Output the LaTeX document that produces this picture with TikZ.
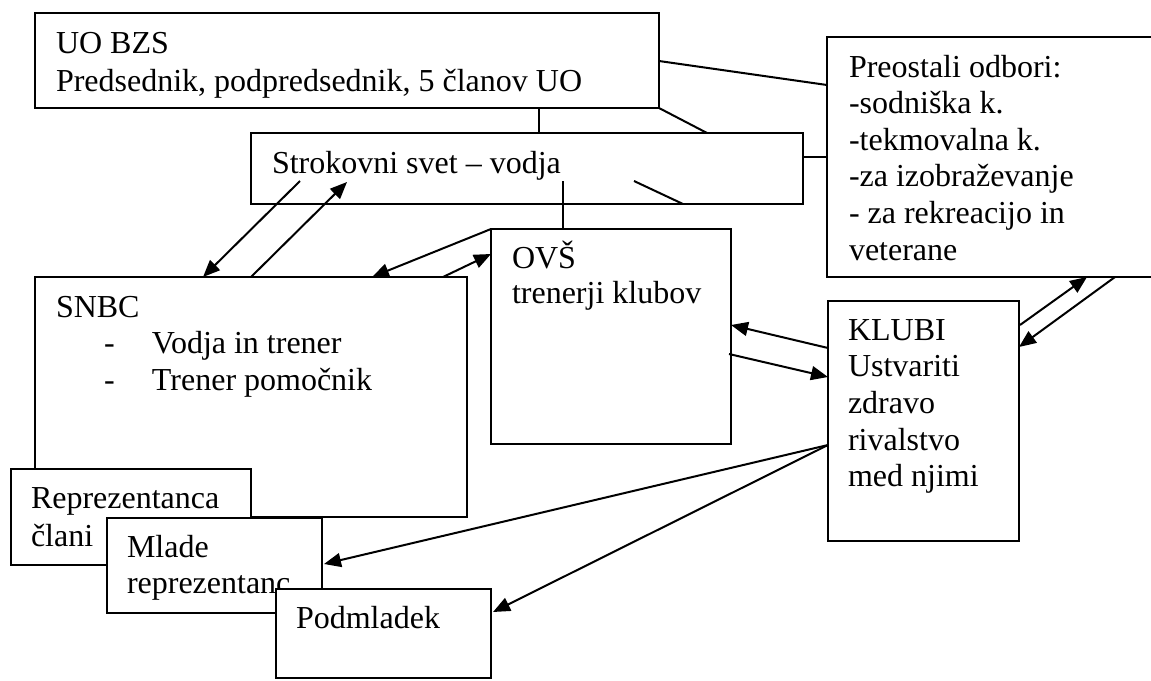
\documentclass[tikz,border=0pt]{standalone}
\usepackage{fontspec}
\setmainfont{Liberation Serif}
\usetikzlibrary{arrows.meta,calc}
\newcommand{\txtblock}[2][36.7]{\parbox[t]{900pt}{\fontsize{32}{#1}\selectfont\raggedright #2}}
\tikzset{
  box/.style={draw, line width=2pt, fill=white, rectangle, inner sep=0pt, outer sep=0pt, anchor=north west},
  lbl/.style={anchor=base west, inner sep=0pt, outer sep=0pt},
  conn/.style={line width=2pt},
  arr/.style={line width=2pt, -{Triangle[length=17pt,width=14pt]}},
}
\begin{document}
\begin{tikzpicture}[x=1pt,y=-1pt]
\useasboundingbox (0,0) rectangle (1151,680);
\clip (0,0) rectangle (1151,680);

% top boxes
\node[box, minimum width=624pt, minimum height=95pt] (uo) at (35,13) {};
\node[lbl] (uotxt) at (56,53) {\txtblock[38]{UO BZS\\Predsednik, podpredsednik, 5 članov UO}};

\node[box, minimum width=552pt, minimum height=71pt] (ss) at (251,133) {};
\node[lbl] (sstxt) at (272,173) {\txtblock{Strokovni svet – vodja}};

\node[box, minimum width=360pt, minimum height=240pt] (po) at (827,37) {};
\node[lbl] (potxt) at (849,77) {\txtblock[36.6]{Preostali odbori:\\-sodniška k.\\-tekmovalna k.\\-za izobraževanje\\- za rekreacijo in\\veterane}};

\node[box, minimum width=240pt, minimum height=215pt] (ovs) at (491,229) {};
\node[lbl] (ovstxt) at (512,268) {\txtblock[35]{OVŠ\\trenerji klubov}};

\node[box, minimum width=191pt, minimum height=240pt] (klubi) at (828,301) {};
\node[lbl] (klubitxt) at (848,340) {\txtblock[36.7]{KLUBI\\Ustvariti\\zdravo\\rivalstvo\\med njimi}};

% stacked boxes at the lower left
\node[box, minimum width=432pt, minimum height=240pt] (snbc) at (35,277) {};
\node[lbl] (snbctxt) at (56,317) {\txtblock[36.5]{SNBC\\\hspace*{48pt}\makebox[48pt][l]{-}Vodja in trener\\\hspace*{48pt}\makebox[48pt][l]{-}Trener pomočnik}};

\node[box, minimum width=240pt, minimum height=96pt] (rep) at (11,469) {};
\node[lbl] (reptxt) at (31,508) {\txtblock[38]{Reprezentanca\\člani}};

\node[box, minimum width=215pt, minimum height=95pt] (mlade) at (107,518) {};
\node[lbl] (mladetxt) at (127,557) {\txtblock[36]{Mlade\\reprezentanc}};

\node[box, minimum width=215pt, minimum height=89pt] (pod) at (276,589) {};
\node[lbl] (podtxt) at (296,628) {\txtblock{Podmladek}};

% plain connectors
\draw[conn] ($(uo.north east)+(0,48)$) -- ($(po.north west)+(0,48)$);
\draw[conn] (uo.south east) -- ($(ss.north west)+(456,0)$);
\draw[conn] ($(uo.south west)+(504,0)$) -- ($(ss.north west)+(288,0)$);
\draw[conn] ($(ss.north east)+(0,24)$) -- ($(po.north west)+(0,120)$);
\draw[conn] ($(ss.north west)+(312,48)$) -- ($(ovs.north west)+(72,0)$);
\draw[conn] ($(ss.north west)+(383,48)$) -- ($(ss.south west)+(432,0)$);

% arrows
\draw[arr] ($(ss.north west)+(49,48)$) -- ($(snbc.north west)+(168,0)$);
\draw[arr] ($(snbc.north west)+(216,0)$) -- ($(ss.north west)+(96,49)$);
\draw[arr] (ovs.north west) -- ($(snbc.north west)+(337,0)$);
\draw[arr] ($(snbc.north west)+(408,0)$) -- ($(ovs.north west)+(0,25)$);
\draw[arr] ($(klubi.north west)+(0,47)$) -- ($(ovs.north east)+(0,96)$);
\draw[arr] ($(ovs.north east)+(-2,125)$) -- ($(klubi.north west)+(0,76)$);
\draw[arr] ($(klubi.north east)+(1,24)$) -- ($(po.south west)+(260,0)$);
\draw[arr] ($(po.south west)+(288,0)$) -- ($(klubi.north east)+(0,46)$);
\draw[arr] ($(klubi.north west)+(0,144)$) -- ($(mlade.north east)+(2,46)$);
\draw[arr] ($(klubi.north west)+(0,144)$) -- ($(pod.north east)+(2,23)$);
\end{tikzpicture}
\end{document}
